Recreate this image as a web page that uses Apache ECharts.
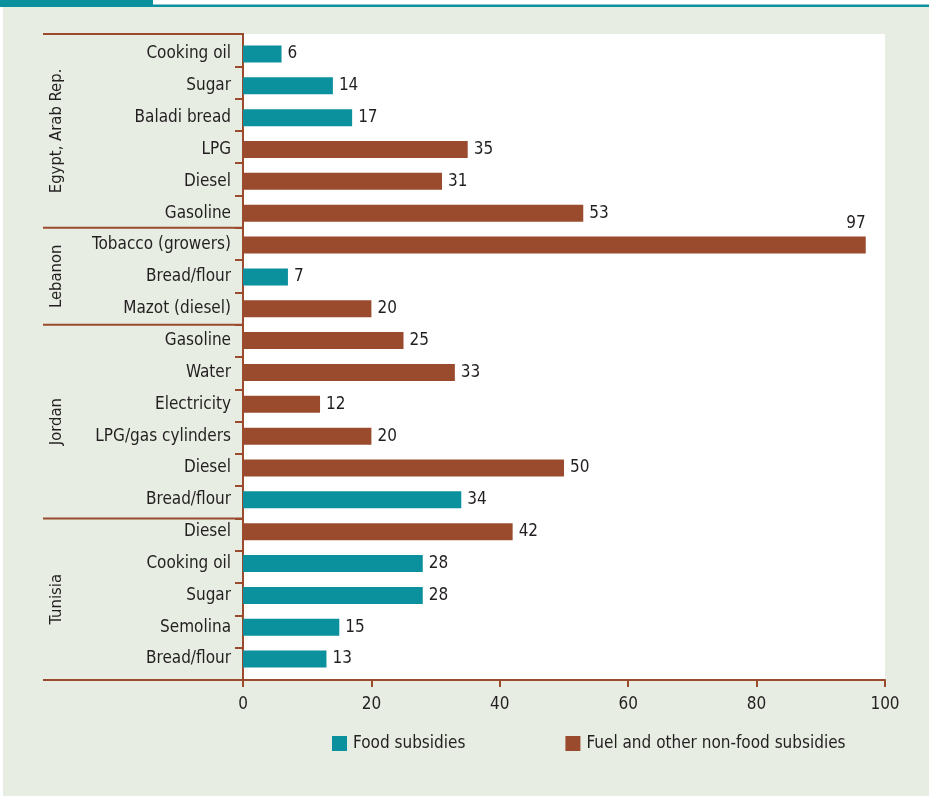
<!DOCTYPE html>
<html>
<head>
<meta charset="utf-8">
<script src="https://cdn.jsdelivr.net/npm/echarts@6/dist/echarts.min.js"></script>
<style>
  html, body { margin: 0; padding: 0; background: #e7ede3; }
  #chart { width: 929px; height: 796px; }
</style>
</head>
<body>
<div id="chart"></div>
<script>
// Subsidy items, top to bottom, grouped by country
const categories = [
  'Cooking oil', 'Sugar', 'Baladi bread', 'LPG', 'Diesel', 'Gasoline',
  'Tobacco (growers)', 'Bread/flour', 'Mazot (diesel)',
  'Gasoline', 'Water', 'Electricity', 'LPG/gas cylinders', 'Diesel', 'Bread/flour',
  'Diesel', 'Cooking oil', 'Sugar', 'Semolina', 'Bread/flour'
];
const groupNames = ['Egypt, Arab Rep.', 'Lebanon', 'Jordan', 'Tunisia'];
const groupSizes = [6, 3, 6, 5];

const foodValues = [
  6, 14, 17, null, null, null,
  null, 7, null,
  null, null, null, null, null, 34,
  null, 28, 28, 15, 13
];
const fuelValues = [
  null, null, null, 35, 31, 53,
  97, null, 20,
  25, 33, 12, 20, 50, null,
  42, null, null, null, null
];
const xTicks = [0, 20, 40, 60, 80, 100];

const TEAL = '#0b909d';
const BROWN = '#9b4b2d';
const INK = '#231f20';
const FONT = "'DejaVu Sans Condensed', 'Liberation Sans Narrow', sans-serif";
const FS = 17;

// Long bars carry their value above the bar end instead of beside it
function toItems(values) {
  return values.map(v => {
    if (v === null) return '-';
    if (v > 90) {
      return { value: v, label: { position: ['100%', -4], align: 'right', verticalAlign: 'bottom' } };
    }
    return v;
  });
}

const chart = echarts.init(document.getElementById('chart'), null, { renderer: 'canvas' });

const barLabel = { show: true, position: 'right', distance: 6, color: INK, fontFamily: FONT, fontSize: FS };
const xMin = xTicks[0], xMax = xTicks[xTicks.length - 1];

chart.setOption({
  backgroundColor: '#e7ede3',
  animation: false,
  textStyle: { fontFamily: FONT },
  grid: [
    // frame grid: white plot area, axis lines, ticks, x labels
    { left: 243, right: 44, top: 34, bottom: 116, show: true, backgroundColor: '#ffffff', borderWidth: 0 },
    // bar grid: bars and item labels
    { left: 243, right: 44, top: 38, bottom: 121, show: false }
  ],
  legend: {
    left: 332, top: 735, padding: 0,
    itemWidth: 15, itemHeight: 15, itemGap: 100,
    icon: 'rect',
    textStyle: { color: INK, fontFamily: FONT, fontSize: FS, padding: [0, 0, 0, 1] },
    data: ['Food subsidies', 'Fuel and other non-food subsidies']
  },
  xAxis: [
    {
      gridIndex: 0, type: 'value', min: xMin, max: xMax, interval: 20,
      axisLine: { show: true, lineStyle: { color: BROWN, width: 2 } },
      axisTick: { show: true, length: 7, lineStyle: { color: BROWN, width: 2 } },
      splitLine: { show: false },
      axisLabel: { color: INK, fontFamily: FONT, fontSize: FS, margin: 16 }
    },
    {
      gridIndex: 1, type: 'value', min: xMin, max: xMax, show: false,
      splitLine: { show: false }
    }
  ],
  yAxis: [
    {
      gridIndex: 0, type: 'category', inverse: true, data: categories,
      axisLine: { show: true, lineStyle: { color: BROWN, width: 2 } },
      axisTick: { show: true, length: 8, lineStyle: { color: BROWN, width: 2 } },
      axisLabel: { show: false }
    },
    {
      gridIndex: 1, type: 'category', inverse: true, data: categories,
      axisLine: { show: false }, axisTick: { show: false },
      axisLabel: { color: INK, fontFamily: FONT, fontSize: FS, margin: 12 }
    }
  ],
  series: [
    {
      name: 'Food subsidies', type: 'bar', stack: 'all', barWidth: 17,
      xAxisIndex: 1, yAxisIndex: 1,
      itemStyle: { color: TEAL }, label: barLabel, data: toItems(foodValues)
    },
    {
      name: 'Fuel and other non-food subsidies', type: 'bar', stack: 'all', barWidth: 17,
      xAxisIndex: 1, yAxisIndex: 1,
      itemStyle: { color: BROWN }, label: barLabel, data: toItems(fuelValues)
    }
  ]
});

// Country brackets and page header, placed from the frame axis scale
function drawDecorations() {
  const c0 = chart.convertToPixel({ yAxisIndex: 0 }, 0);
  const c1 = chart.convertToPixel({ yAxisIndex: 0 }, 1);
  const band = c1 - c0;
  const axisX = chart.convertToPixel({ xAxisIndex: 0 }, 0);
  const top = c0 - band / 2;
  const left = 43;
  const els = [
    { type: 'rect', shape: { x: 0, y: 0, width: 929, height: 5 }, style: { fill: '#ffffff' }, silent: true },
    { type: 'rect', shape: { x: 0, y: 0, width: 3, height: 796 }, style: { fill: '#ffffff' }, silent: true },
    { type: 'rect', shape: { x: 0, y: 0, width: 153, height: 7 }, style: { fill: TEAL }, silent: true },
    { type: 'rect', shape: { x: 0, y: 4.5, width: 929, height: 2.5 }, style: { fill: TEAL }, silent: true }
  ];
  let start = 0;
  const boundaries = [top];
  groupSizes.forEach((n, gi) => {
    const y0 = top + start * band;
    const y1 = top + (start + n) * band;
    boundaries.push(y1);
    els.push({
      type: 'text', x: 57, y: (y0 + y1) / 2, rotation: Math.PI / 2, silent: true,
      style: { text: groupNames[gi], fill: INK, font: '16.5px ' + FONT, align: 'center', verticalAlign: 'middle' }
    });
    start += n;
  });
  boundaries.forEach(y => {
    els.push({
      type: 'line', silent: true,
      shape: { x1: left, y1: y, x2: axisX + 1, y2: y },
      style: { stroke: BROWN, lineWidth: 2 }
    });
  });
  chart.setOption({ graphic: els });
}
drawDecorations();
</script>
</body>
</html>
